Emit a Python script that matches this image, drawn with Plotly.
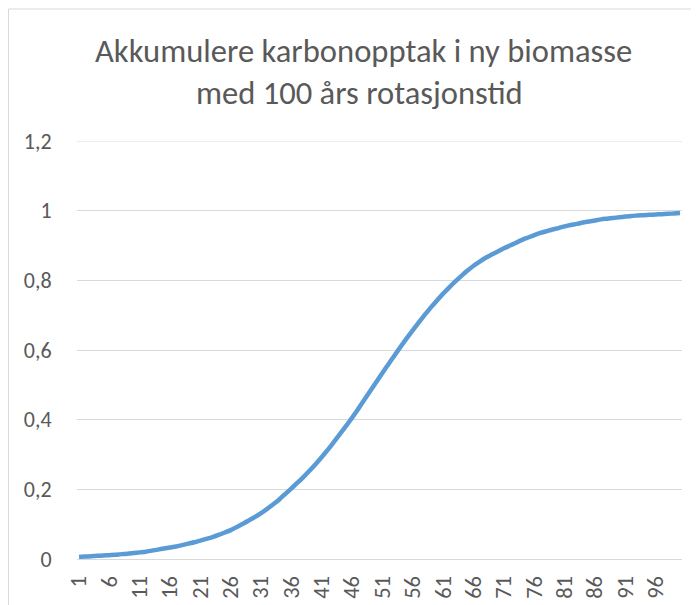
import plotly.graph_objects as go

years = list(range(1, 101))
accumulated = [
    0.006, 0.007, 0.008, 0.009, 0.010, 0.011, 0.012, 0.014, 0.015, 0.017,
    0.019, 0.021, 0.024, 0.027, 0.030, 0.033, 0.036, 0.040, 0.044, 0.048,
    0.053, 0.058, 0.063, 0.069, 0.076, 0.083, 0.092, 0.101, 0.111, 0.121,
    0.132, 0.144, 0.157, 0.171, 0.187, 0.203, 0.219, 0.236, 0.254, 0.273,
    0.293, 0.314, 0.336, 0.359, 0.382, 0.406, 0.431, 0.457, 0.483, 0.509,
    0.535, 0.560, 0.585, 0.610, 0.634, 0.657, 0.680, 0.702, 0.723, 0.743,
    0.762, 0.780, 0.797, 0.813, 0.828, 0.842, 0.854, 0.865, 0.874, 0.883,
    0.892, 0.900, 0.908, 0.916, 0.923, 0.930, 0.936, 0.941, 0.946, 0.950,
    0.955, 0.959, 0.962, 0.966, 0.969, 0.972, 0.975, 0.977, 0.979, 0.981,
    0.983, 0.985, 0.986, 0.987, 0.988, 0.989, 0.990, 0.991, 0.992, 0.993,
]
x_tick_vals = list(range(1, 101, 5))
x_tick_text = [str(v) for v in x_tick_vals]
y_tick_vals = [0, 0.2, 0.4, 0.6, 0.8, 1.0, 1.2]
y_tick_text = ["0", "0,2", "0,4", "0,6", "0,8", "1", "1,2"]
title_lines = ["Akkumulere karbonopptak i ny biomasse", "med 100 års rotasjonstid"]

FONT = "Carlito, Lato, sans-serif"
GRAY = "#595959"
GRID = "#d9d9d9"

# page body has an 8px offset; layout numbers below are in figure coordinates
OFF = 8
L, T = 77 - OFF, 141 - OFF
PW, PH = 605, 418

fig = go.Figure()
fig.add_trace(go.Scatter(
    x=years, y=accumulated, mode="lines",
    line=dict(color="#5b9bd5", width=4.5, shape="spline", smoothing=0.6),
    hoverinfo="x+y", showlegend=False,
))

def px(xw):
    return (xw - 77) / PW

def py(yw):
    return (559 - yw) / PH

fig.update_layout(
    width=699, height=605,
    margin=dict(l=L, r=699 - L - PW, t=T, b=605 - T - PH, autoexpand=False),
    paper_bgcolor="white", plot_bgcolor="white",
    font=dict(family=FONT, color=GRAY),
    shapes=[
        dict(type="rect", xref="paper", yref="paper",
             x0=px(8.5), x1=1.3, y0=-0.3, y1=py(9),
             line=dict(color=GRID, width=1), layer="below"),
        dict(type="line", xref="paper", yref="y", x0=0, x1=1,
             y0=y_tick_vals[-1], y1=y_tick_vals[-1],
             line=dict(color=GRID, width=1), layer="below"),
    ],
    annotations=[
        dict(text=title_lines[0], xref="paper", yref="paper",
             x=px(363), y=py(51), xanchor="center", yanchor="middle",
             showarrow=False, font=dict(size=32.6, color=GRAY, family=FONT)),
        dict(text=title_lines[1], xref="paper", yref="paper",
             x=px(359), y=py(93), xanchor="center", yanchor="middle",
             showarrow=False, font=dict(size=32.6, color=GRAY, family=FONT)),
    ],
)
fig.update_xaxes(
    range=[0.67, 100.33], tickmode="array", tickvals=x_tick_vals, ticktext=x_tick_text,
    tickangle=-90, tickfont=dict(size=22.5, color=GRAY, family=FONT),
    showgrid=False, zeroline=False, showline=True, linecolor=GRID, linewidth=1,
    ticks="outside", ticklen=7, tickcolor="rgba(0,0,0,0)", automargin=False,
)
fig.update_yaxes(
    range=[0, 1.2], tickmode="array", tickvals=y_tick_vals, ticktext=y_tick_text,
    tickfont=dict(size=22, color=GRAY, family=FONT),
    showgrid=True, gridcolor=GRID, gridwidth=1, zeroline=False, showline=False,
    ticks="outside", ticklen=20, tickcolor="rgba(0,0,0,0)", automargin=False,
)

fig.write_html("out.html")
